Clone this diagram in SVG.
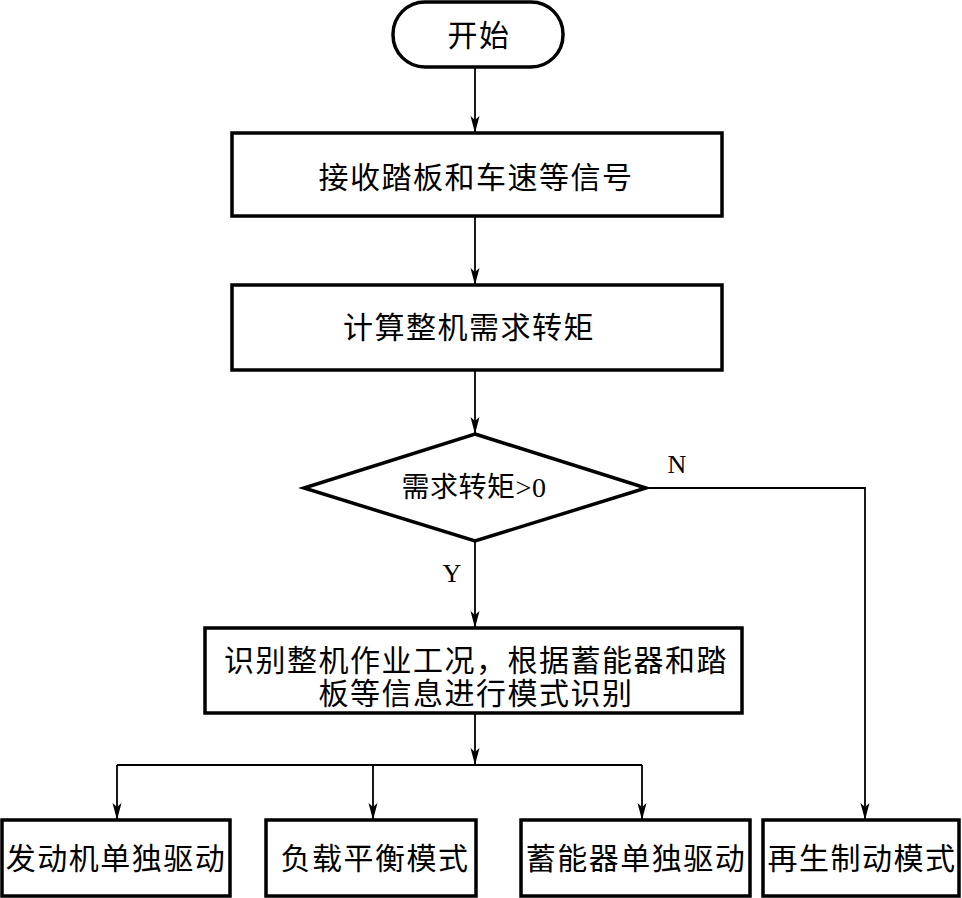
<svg xmlns="http://www.w3.org/2000/svg" width="962" height="898" viewBox="0 0 962 898">
<defs>
<marker id="arr" markerUnits="userSpaceOnUse" markerWidth="18" markerHeight="12" refX="17" refY="6" orient="auto">
<path d="M0,1.5 L17,6 L0,10.5 L4,6 z" fill="#000"/>
</marker>
</defs>
<style>
.box{fill:#fff;stroke:#000;stroke-width:3.5}
.t{font-family:"Liberation Serif","Noto Sans CJK SC",serif;font-size:30px;fill:#000;text-anchor:middle;dominant-baseline:central;letter-spacing:1.5px}
.lbl{font-family:"Liberation Serif",serif;font-size:26px;fill:#000;text-anchor:middle;dominant-baseline:central}
.c{fill:none;stroke:#000;stroke-width:1.8}
</style>
<rect width="962" height="898" fill="#fff"/>
<g id="connectors">
<line class="c" x1="475" y1="67" x2="475" y2="133" marker-end="url(#arr)"/>
<line class="c" x1="475" y1="216" x2="475" y2="285" marker-end="url(#arr)"/>
<line class="c" x1="475" y1="370" x2="475" y2="434" marker-end="url(#arr)"/>
<line class="c" x1="475" y1="541" x2="475" y2="628" marker-end="url(#arr)"/>
<line class="c" x1="475" y1="713" x2="475" y2="765" marker-end="url(#arr)"/>
<polyline class="c" points="117,765 642,765"/>
<line class="c" x1="117" y1="765" x2="117" y2="820" marker-end="url(#arr)"/>
<line class="c" x1="373" y1="765" x2="373" y2="820" marker-end="url(#arr)"/>
<line class="c" x1="642" y1="765" x2="642" y2="820" marker-end="url(#arr)"/>
<polyline class="c" points="646,488 865,488 865,820" marker-end="url(#arr)"/>
<text class="lbl" x="677" y="464">N</text>
<text class="lbl" x="452" y="573">Y</text>
</g>
<g id="start">
<rect class="box" x="393" y="2" width="170" height="65" rx="32" ry="32"/>
<text class="t" x="479" y="35">开始</text>
</g>
<g id="receive">
<rect class="box" x="232" y="133" width="490" height="83"/>
<text class="t" x="476" y="177">接收踏板和车速等信号</text>
</g>
<g id="calc">
<rect class="box" x="232" y="285" width="490" height="85"/>
<text class="t" x="469" y="327">计算整机需求转矩</text>
</g>
<g id="decision">
<polygon class="box" points="475,434 646,488 475,541 304,488"/>
<text class="t" x="474" y="487" style="font-size:28px;letter-spacing:0.5px">需求转矩&gt;0</text>
</g>
<g id="identify">
<rect class="box" x="205" y="628" width="537" height="85"/>
<text class="t" x="476" y="660">识别整机作业工况，根据蓄能器和踏</text>
<text class="t" x="476" y="693">板等信息进行模式识别</text>
</g>
<g id="engine">
<rect class="box" x="2" y="820" width="228" height="76"/>
<text class="t" x="116" y="858">发动机单独驱动</text>
</g>
<g id="balance">
<rect class="box" x="266" y="820" width="210" height="76"/>
<text class="t" x="375" y="858">负载平衡模式</text>
</g>
<g id="accum">
<rect class="box" x="521" y="820" width="229" height="76"/>
<text class="t" x="636" y="858">蓄能器单独驱动</text>
</g>
<g id="regen">
<rect class="box" x="763" y="820" width="196" height="76"/>
<text class="t" x="862" y="858">再生制动模式</text>
</g>
</svg>
